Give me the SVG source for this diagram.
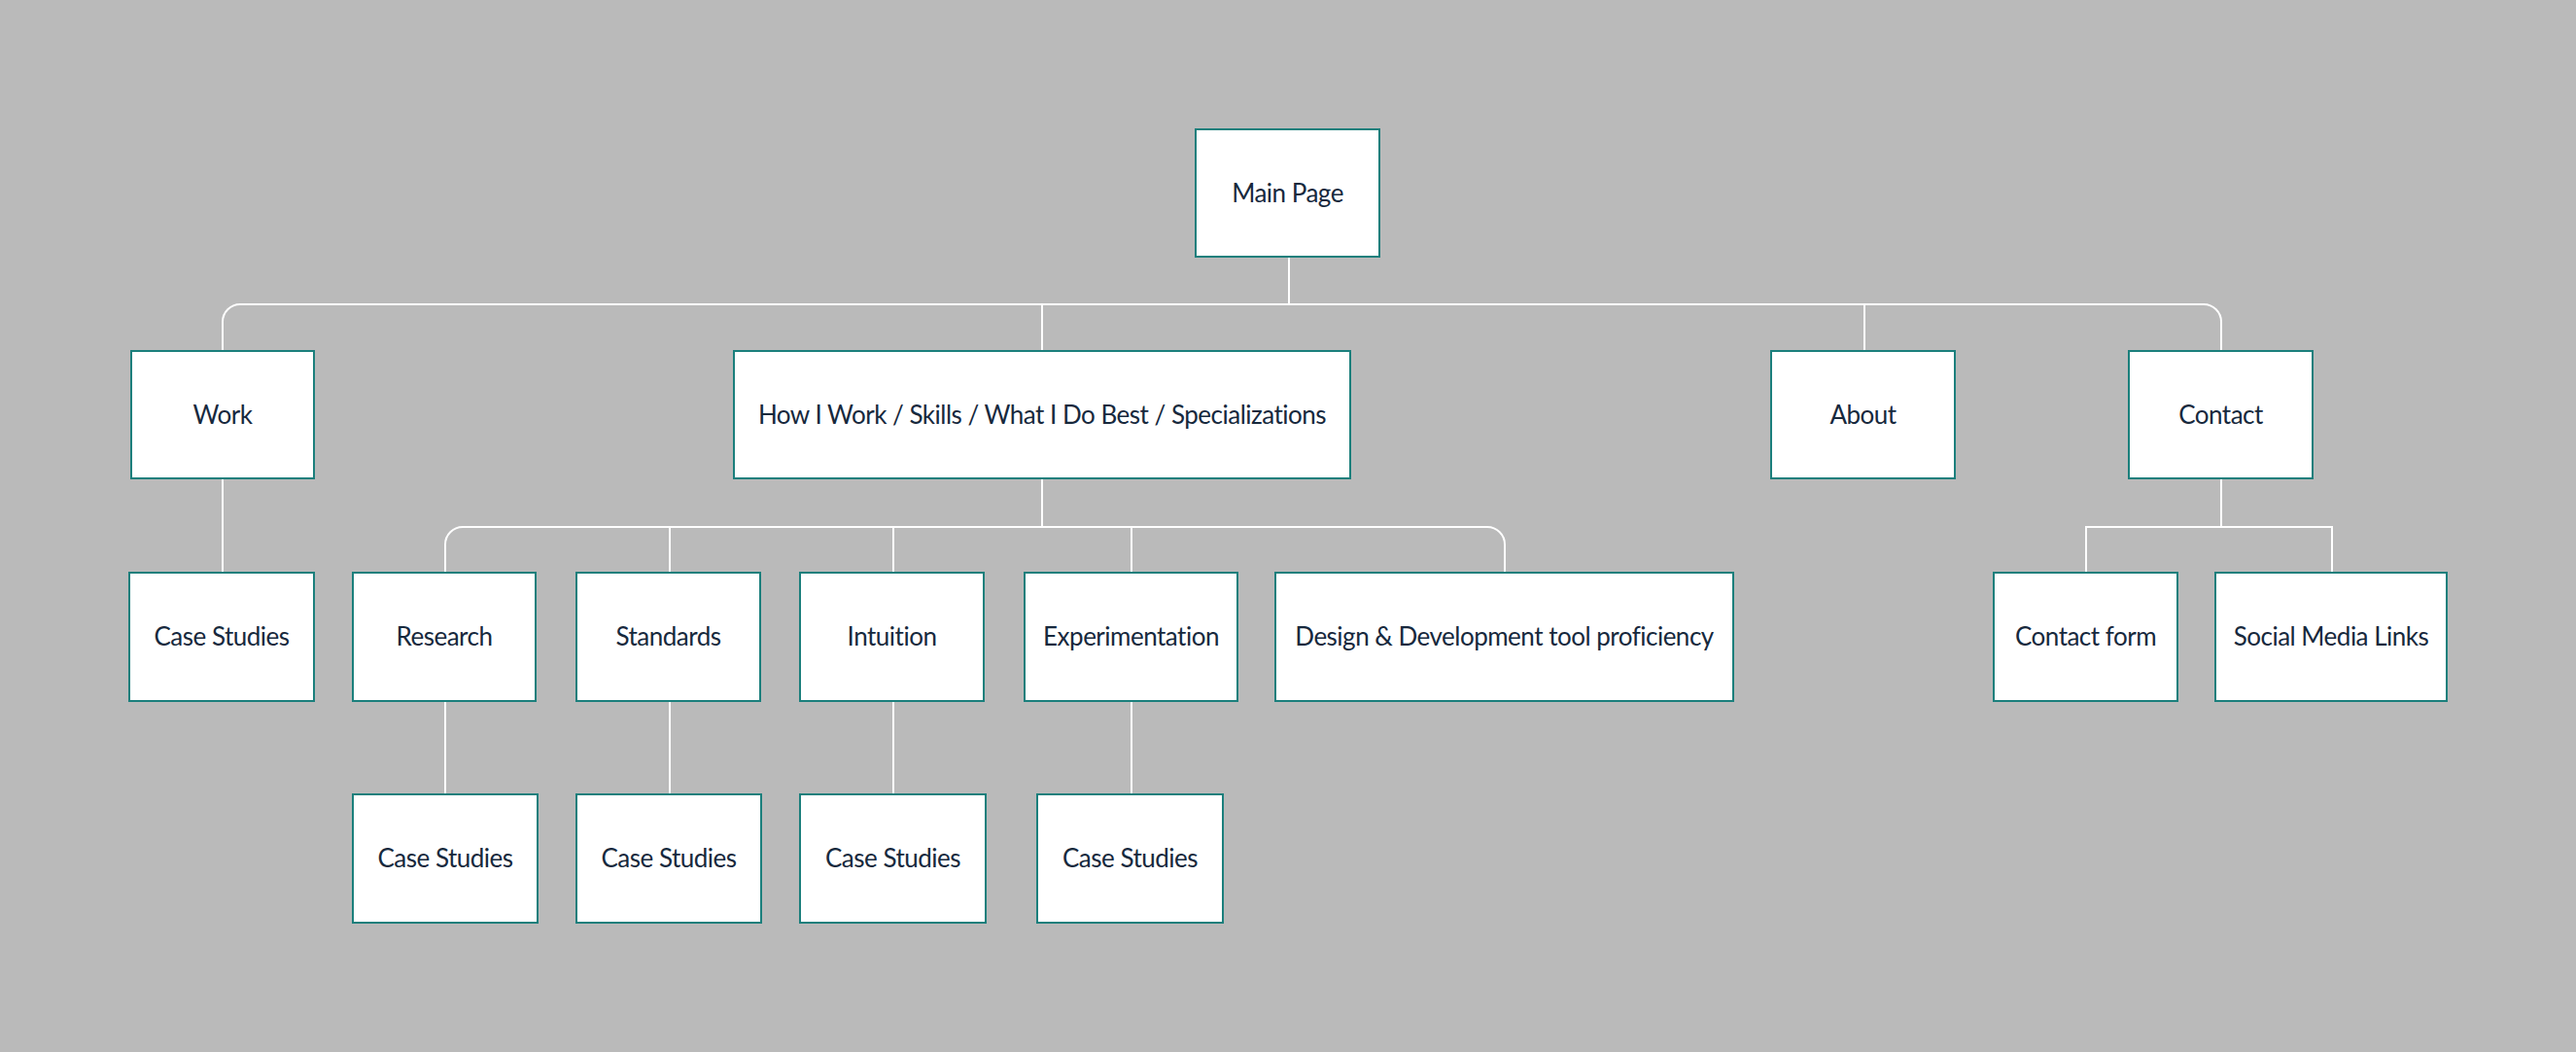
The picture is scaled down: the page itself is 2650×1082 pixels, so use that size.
<svg xmlns="http://www.w3.org/2000/svg" width="2650" height="1082" viewBox="0 0 2650 1082">
<style>
.bg{fill:#bababa}
.n rect{fill:#ffffff;stroke:#1b7f7c;stroke-width:2}
.n text{font-family:Lato,"Noto Sans",sans-serif;font-size:26px;letter-spacing:-0.5px;fill:#17293d;text-anchor:middle}
.c path{fill:none;stroke:#ffffff;stroke-width:2}
</style>
<rect class="bg" x="0" y="0" width="2650" height="1082"/>
<g class="c" id="connectors">
<path d="M1326,264 V313"/>
<path d="M229,361 V331 A18,18 0 0 1 247,313 H2267 A18,18 0 0 1 2285,331 V361"/>
<path d="M1072,313 V361"/>
<path d="M1918,313 V361"/>
<path d="M229,492 V589"/>
<path d="M1072,492 V542"/>
<path d="M458,589 V560 A18,18 0 0 1 476,542 H1530 A18,18 0 0 1 1548,560 V589"/>
<path d="M689,542 V589"/>
<path d="M919,542 V589"/>
<path d="M1164,542 V589"/>
<path d="M2285,492 V542"/>
<path d="M2146,589 V542 H2399 V589"/>
<path d="M458,721 V817"/>
<path d="M689,721 V817"/>
<path d="M919,721 V817"/>
<path d="M1164,721 V817"/>
</g>
<g class="n" id="main-page"><rect x="1230" y="133" width="189" height="131"/><text x="1324.5" y="208">Main Page</text></g>
<g class="n" id="work"><rect x="135" y="361" width="188" height="131"/><text x="229" y="436">Work</text></g>
<g class="n" id="how-i-work"><rect x="755" y="361" width="634" height="131"/><text x="1072" y="436">How I Work / Skills / What I Do Best / Specializations</text></g>
<g class="n" id="about"><rect x="1822" y="361" width="189" height="131"/><text x="1916.5" y="436">About</text></g>
<g class="n" id="contact"><rect x="2190" y="361" width="189" height="131"/><text x="2284.5" y="436">Contact</text></g>
<g class="n" id="work-case-studies"><rect x="133" y="589" width="190" height="132"/><text x="228" y="664">Case Studies</text></g>
<g class="n" id="research"><rect x="363" y="589" width="188" height="132"/><text x="457" y="664">Research</text></g>
<g class="n" id="standards"><rect x="593" y="589" width="189" height="132"/><text x="687.5" y="664">Standards</text></g>
<g class="n" id="intuition"><rect x="823" y="589" width="189" height="132"/><text x="917.5" y="664">Intuition</text></g>
<g class="n" id="experimentation"><rect x="1054" y="589" width="219" height="132"/><text x="1163.5" y="664">Experimentation</text></g>
<g class="n" id="design-dev"><rect x="1312" y="589" width="471" height="132"/><text x="1547.5" y="664">Design &amp; Development tool proficiency</text></g>
<g class="n" id="contact-form"><rect x="2051" y="589" width="189" height="132"/><text x="2145.5" y="664">Contact form</text></g>
<g class="n" id="social-media"><rect x="2279" y="589" width="238" height="132"/><text x="2398" y="664">Social Media Links</text></g>
<g class="n" id="research-case-studies"><rect x="363" y="817" width="190" height="132"/><text x="458" y="892">Case Studies</text></g>
<g class="n" id="standards-case-studies"><rect x="593" y="817" width="190" height="132"/><text x="688" y="892">Case Studies</text></g>
<g class="n" id="intuition-case-studies"><rect x="823" y="817" width="191" height="132"/><text x="918.5" y="892">Case Studies</text></g>
<g class="n" id="experimentation-case-studies"><rect x="1067" y="817" width="191" height="132"/><text x="1162.5" y="892">Case Studies</text></g>
</svg>
